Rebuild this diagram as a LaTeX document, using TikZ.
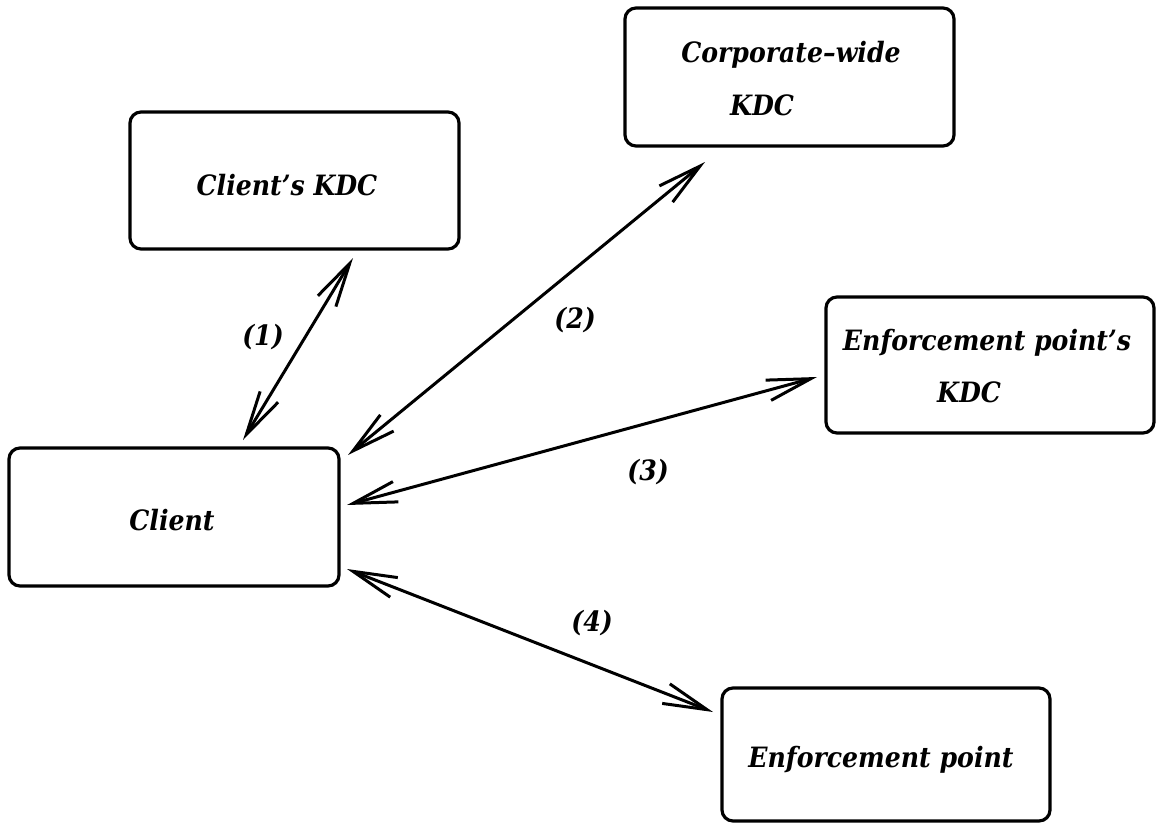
\documentclass[tikz,border=0pt]{standalone}
\usepackage{fontspec}
\setmainfont{DejaVu Serif Condensed}
\usetikzlibrary{arrows.meta,calc}

\begin{document}
\begin{tikzpicture}[x=1pt,y=-1pt,
  box/.style={draw, line width=3.2pt, rounded corners=11pt, outer sep=0pt,
    inner sep=0pt},
  txt/.style={inner sep=0pt, font=\fontsize{28}{33}\selectfont\bfseries\itshape},
  link/.style={line width=3pt,
    {Straight Barb[length=44pt,width=21pt]}-{Straight Barb[length=44pt,width=21pt]}}]
  \useasboundingbox (0,0) rectangle (1158,824);

  % boxes
  \node[box, minimum width=329pt, minimum height=137pt] (ckdc) at (294.5,180.5) {};
  \node[box, minimum width=329pt, minimum height=138pt] (corp) at (789.5,77) {};
  \node[box, minimum width=328pt, minimum height=136pt] (epkdc) at (990,365) {};
  \node[box, minimum width=330pt, minimum height=138pt] (client) at (174,517) {};
  \node[box, minimum width=328pt, minimum height=133pt] (ep) at (886,754.5) {};

  % box texts
  \node[txt] (ckdctxt) at (287,185) {Client’s KDC};
  \node[txt] (corptxt) at (791,55) {Corporate–wide};
  \node[txt] (corpkdc) at (762,105) {KDC};
  \node[txt] (epkdctxt) at (987,343) {Enforcement point’s};
  \node[txt] (epkdckdc) at (969,392) {KDC};
  \node[txt] (clienttxt) at (172,520) {Client};
  \node[txt] (eptxt) at (881,760) {Enforcement point};

  % message exchanges
  \draw[link] ($(client.north west)+(234,-8)$) -- ($(ckdc.south west)+(223,9)$);
  \draw[link] ($(client.north east)+(9,7)$) -- ($(corp.south west)+(80,16)$);
  \draw[link] ($(client.east)+(8,-12)$) -- ($(epkdc.west)+(-9,12)$);
  \draw[link] ($(client.south east)+(8,-17)$) -- ($(ep.north west)+(-9,24)$);

  % step numbers
  \node[txt] (l1) at (263,337) {(1)};
  \node[txt] (l2) at (575,320) {(2)};
  \node[txt] (l3) at (648,472) {(3)};
  \node[txt] (l4) at (592,623) {(4)};
\end{tikzpicture}
\end{document}
